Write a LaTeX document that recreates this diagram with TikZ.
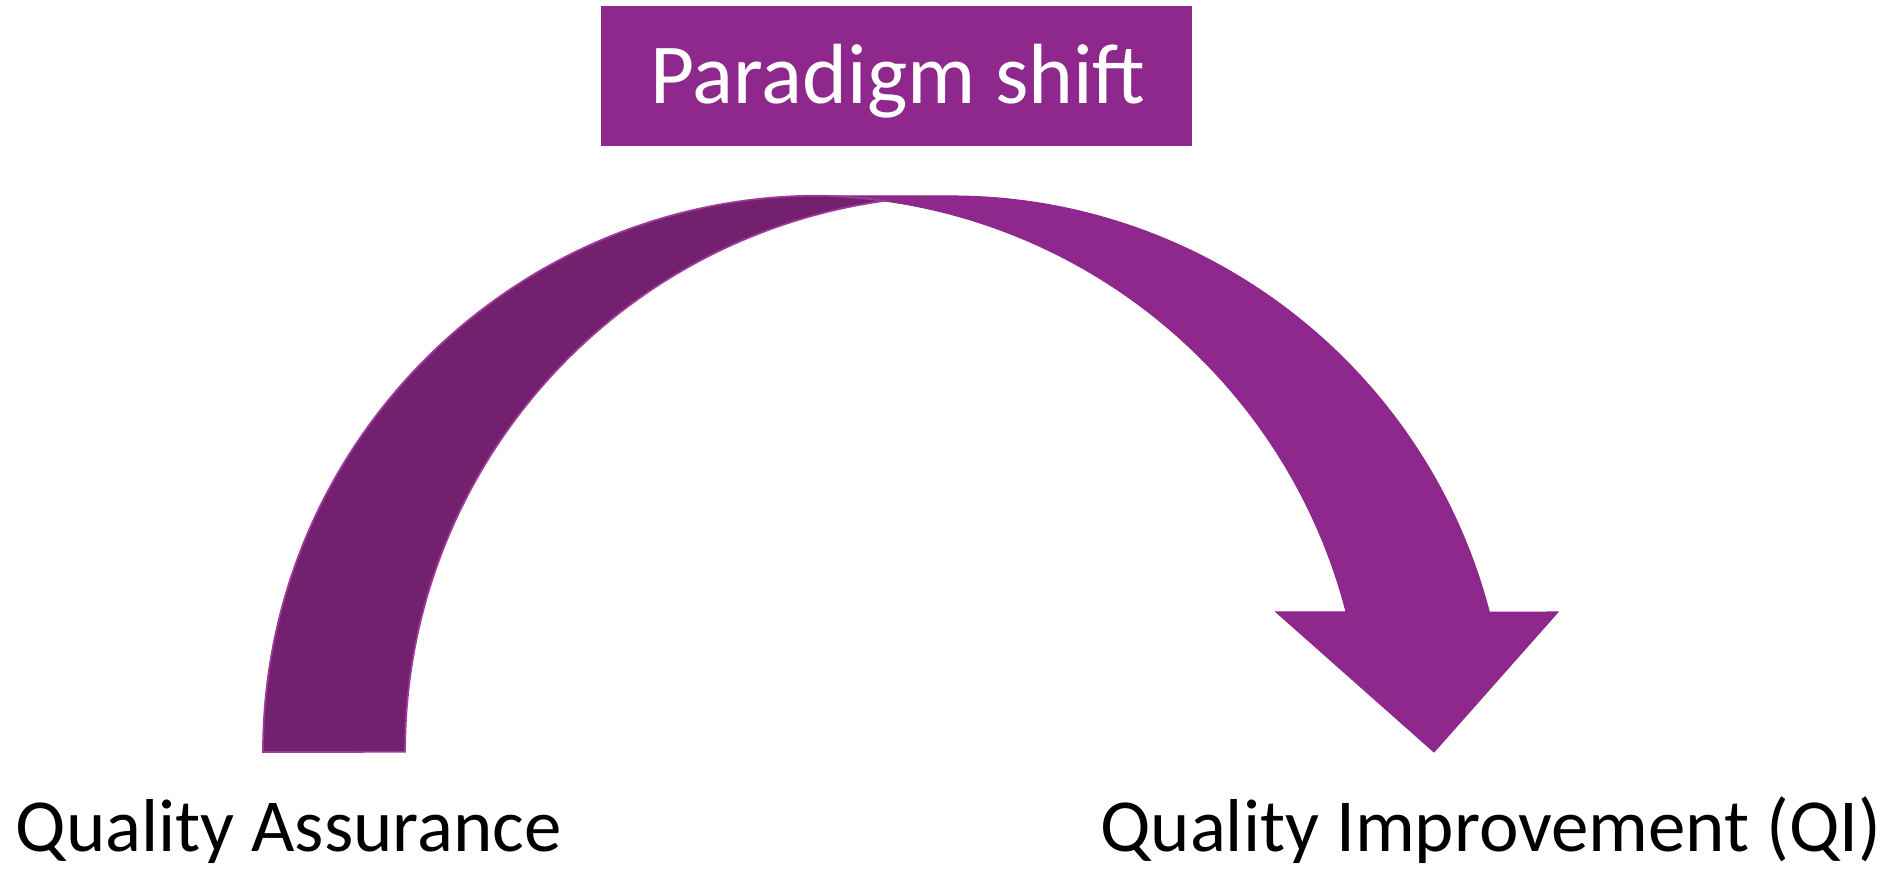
\documentclass[tikz,border=0pt]{standalone}
\usepackage{fontspec}
\setmainfont{Carlito}
\definecolor{plight}{HTML}{8E288C}
\definecolor{pdark}{HTML}{73216F}
\definecolor{pedge}{HTML}{9E3A9B}
\tikzset{
  bandlight/.style={fill=plight, draw=plight, line width=0.3pt, line join=miter},
  banddark/.style={fill=pdark, draw=pedge, line width=0.5pt},
  titlebox/.style={fill=plight, draw=none},
  label/.style={inner sep=0pt, font=\fontsize{21.3pt}{25pt}\selectfont, text=black}
}
\begin{document}
\begin{tikzpicture}[x=0.01cm, y=0.01cm]
\useasboundingbox (0,0) rectangle (1896,874);
% title box
\path[titlebox] (601,728) rectangle (1192,868);
\node[inner sep=0pt, anchor=base, text=white, font=\fontsize{24.3pt}{28pt}\selectfont] (title) at (898,770) {Paradigm shift};
% light band with arrowhead
\coordinate (ltop) at (808,678);
\path[bandlight] (ltop) -- (951,678) arc[start angle=90, end angle=14.58, radius=5.56cm]
  -- (1558,262) -- (1434,122) -- (1276,262) -- (1346.1,262)
  arc[start angle=14.58, end angle=90, radius=5.56cm] -- cycle;
% dark tail
\path[banddark] (263,122) arc[start angle=180, end angle=90, radius=5.56cm]
  arc[start angle=88.763, end angle=82.04, radius=5.56cm]
  arc[start angle=97.96, end angle=180, radius=5.56cm] -- cycle;
% labels
\node[label, anchor=base west] (qa) at (15,22) {Quality Assurance};
\node[label, anchor=base east] (qi) at (1882,22) {Quality Improvement (QI)};
\end{tikzpicture}
\end{document}
